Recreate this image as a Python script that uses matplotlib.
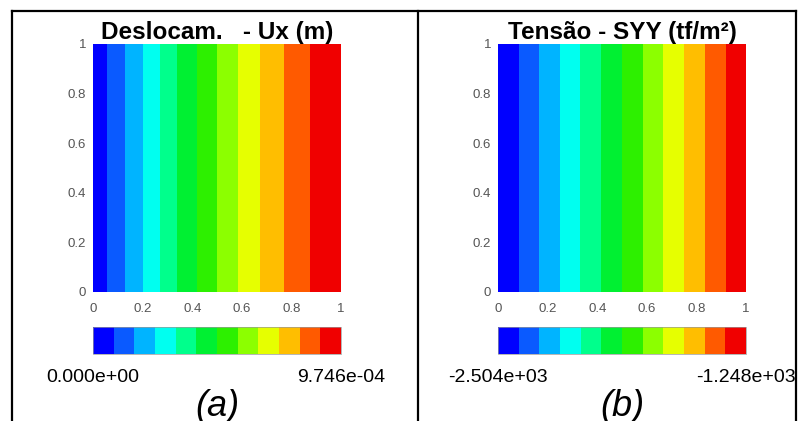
import numpy as np
import matplotlib

matplotlib.use("Agg")
import matplotlib.pyplot as plt
from matplotlib.colors import ListedColormap, BoundaryNorm
from matplotlib.cm import ScalarMappable
from matplotlib.lines import Line2D

plt.rcParams["font.family"] = ["Liberation Sans", "DejaVu Sans"]

# ---------------------------------------------------------------------------
# Data
# ---------------------------------------------------------------------------

# 12 colour bands (jet-like palette used by the solver output)
band_colors = ["#0000ff", "#0a5aff", "#00b4ff", "#00fff0", "#00ff8c", "#00f032",
               "#2df000", "#8cff00", "#e6ff00", "#ffbe00", "#ff5a00", "#f00000"]

# band edges along x for panel (a): displacement Ux
ux_edges = [0.0, 0.058, 0.129, 0.200, 0.270, 0.340, 0.418, 0.499,
            0.583, 0.673, 0.770, 0.875, 1.0]
ux_range = [0.0, 9.746e-04]
ux_title = "Deslocam.   - Ux (m)"

# band edges along x for panel (b): stress SYY
syy_edges = [0.0, 0.083, 0.165, 0.249, 0.332, 0.417, 0.500,
             0.584, 0.665, 0.748, 0.833, 0.918, 1.0]
syy_range = [-2.504e+03, -1.248e+03]
syy_title = "Tensão - SYY (tf/m²)"

ticks = [0, 0.2, 0.4, 0.6, 0.8, 1]
tick_labels = ["0", "0.2", "0.4", "0.6", "0.8", "1"]

W, H = 799, 421


def fx(px):
    return px / W


def fy(px):
    return 1 - px / H


fig = plt.figure(figsize=(W / 100, H / 100), dpi=100)
fig.patch.set_facecolor("white")

cmap = ListedColormap(band_colors)
n = len(band_colors)


def panel(left_px, edges, vrange, title, tag):
    ax = fig.add_axes([fx(left_px), fy(292), 248 / W, 248 / H])
    levels = np.linspace(vrange[0], vrange[1], n + 1)
    norm = BoundaryNorm(levels, n)
    centers = 0.5 * (levels[:-1] + levels[1:])
    ax.pcolormesh(edges, [0, 1], [centers], cmap=cmap, norm=norm)
    ax.set_xlim(0, 1)
    ax.set_ylim(0, 1)
    ax.set_xticks(ticks)
    ax.set_xticklabels(tick_labels)
    ax.set_yticks(ticks)
    ax.set_yticklabels(tick_labels)
    ax.tick_params(length=0, labelsize=9.5, labelcolor="#555555")
    ax.tick_params(axis="x", pad=8)
    ax.tick_params(axis="y", pad=5)
    for s in ax.spines.values():
        s.set_visible(False)
    ax.set_title(title, fontsize=17.5, fontweight="bold", pad=3)

    cax = fig.add_axes([fx(left_px), fy(354), 248 / W, 27 / H])
    cb = fig.colorbar(ScalarMappable(norm=norm, cmap=cmap), cax=cax,
                      orientation="horizontal", ticks=[vrange[0], vrange[1]])
    cb.ax.minorticks_off()
    cb.ax.set_xticklabels([f"{vrange[0]:.3e}", f"{vrange[1]:.3e}"])
    cb.ax.tick_params(which="both", length=0, labelsize=14, pad=11)
    cb.outline.set_linewidth(0.5)
    cb.outline.set_edgecolor("#999999")

    fig.text(fx(left_px + 124), fy(416), tag, fontsize=26, style="italic",
             ha="center", va="baseline")


panel(93, ux_edges, ux_range, ux_title, "(a)")
panel(498, syy_edges, syy_range, syy_title, "(b)")

# table-like frame around the two panels (no bottom edge)
lw = 1.6
fig.add_artist(Line2D([fx(12), fx(796)], [fy(11), fy(11)], color="black", lw=lw))
for xp in (12, 418, 796):
    fig.add_artist(Line2D([fx(xp), fx(xp)], [fy(11), 0], color="black", lw=lw))

fig.savefig("out.png", dpi=100)
